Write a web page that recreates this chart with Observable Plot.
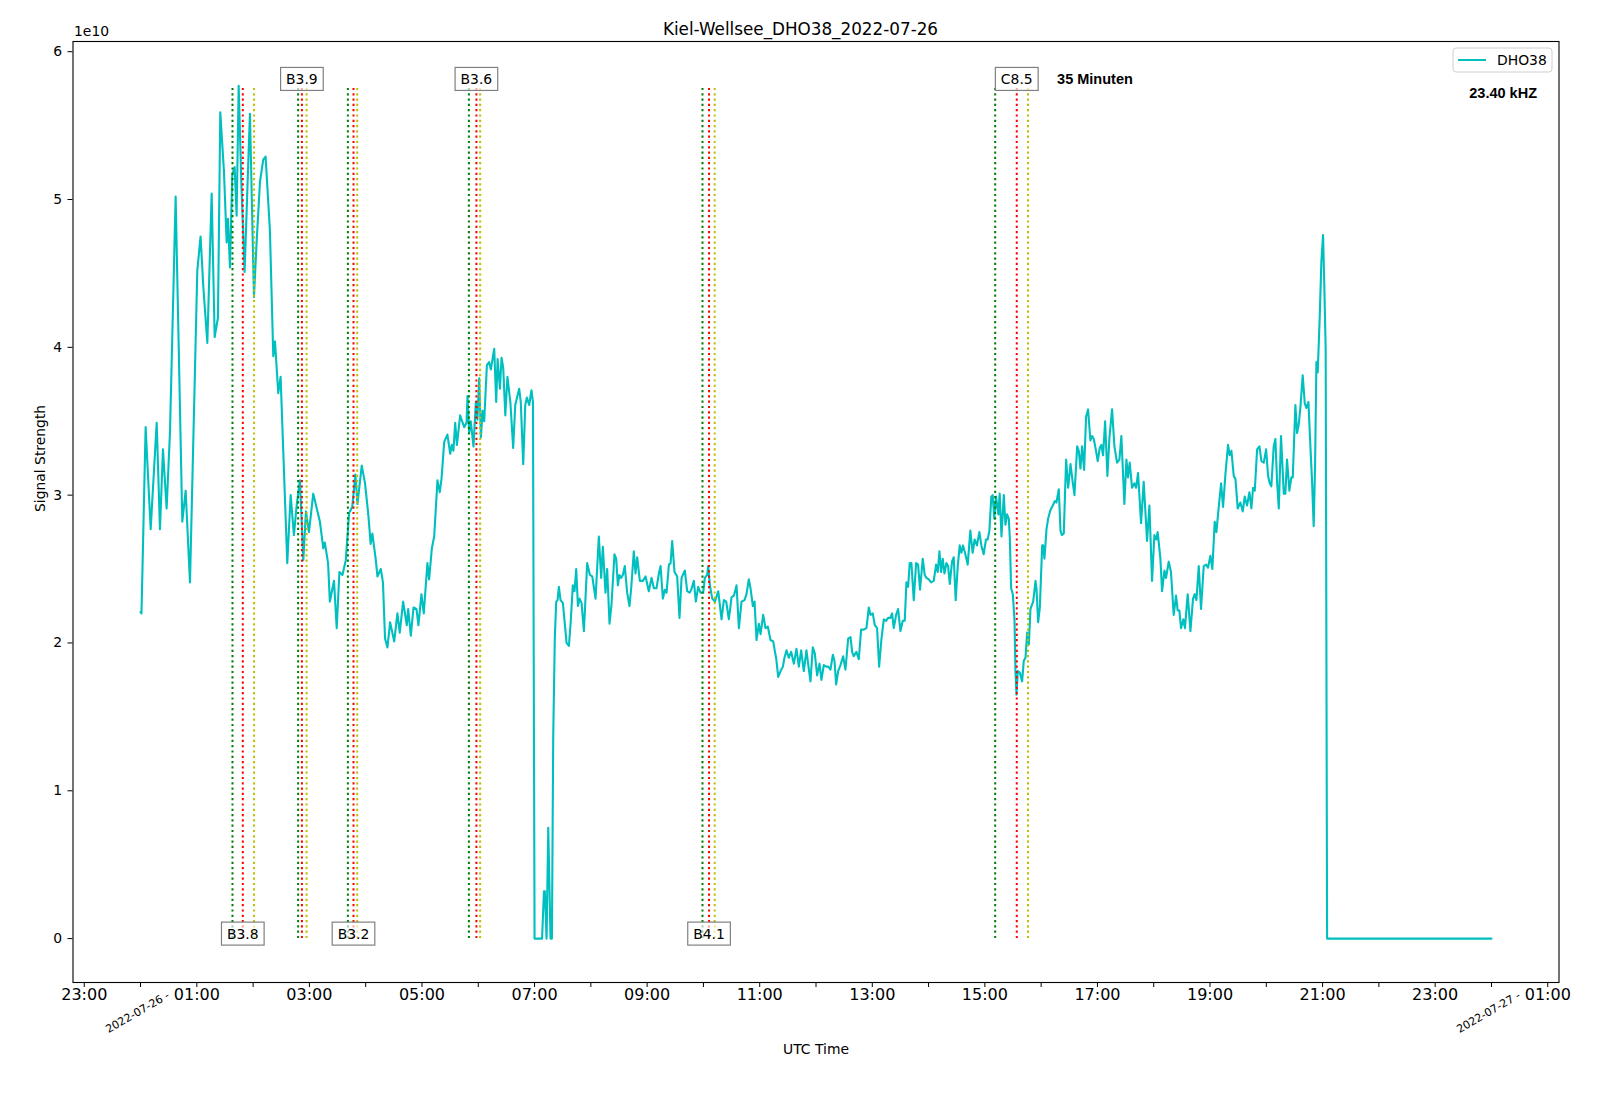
<!DOCTYPE html>
<html><head><meta charset="utf-8">
<script src="https://cdn.jsdelivr.net/npm/d3@7"></script>
<script src="https://cdn.jsdelivr.net/npm/@observablehq/plot@0.6"></script>
<style>
html,body{margin:0;padding:0;background:#fff}
#chart{width:1600px;height:1102px}
</style>
</head><body><div id="chart"></div>
<script>
// ---- data (signal strength in units of 1e10, time in minutes after 2022-07-26 00:00 UTC)
const minutes = [
0,1,5.4,10.8,17.2,20.7,23.9,27.8,31.4,37.4,
44.5,48.1,52.7,60.5,64,66.9,71.2,75.8,79,82.5,
85,88.9,91.8,93.2,95.3,97.8,100.3,102.4,104.6,107.4,
110.9,116.6,120.9,123.7,127.3,130.8,133.3,137.9,141.5,143.3,
146.8,149.3,156.4,160,163.5,166.4,169.9,173.5,176.3,179.5,
184.1,191.2,194.8,196.4,199.9,201.8,206.2,209.1,212,215.2,
218.8,222.3,225.7,229,231.2,235.8,239.3,242.9,245.3,247.1,
250.8,252.5,256.1,258.4,260.6,263.2,266,270.4,273.8,276.3,
279.9,283.8,285.3,288.1,291,294.1,296.2,299.4,301.9,305.8,
307.6,310.5,313,316.5,319,320.8,323.7,327.1,330.1,331.8,
333.5,335.4,337.2,340.7,343.3,345,347.5,348.5,350.3,352,
354.9,357.4,359.1,361,362.8,364.6,366.3,369.2,371.5,373.4,
375.2,377,379.1,380.6,383.1,384.8,386.6,388.8,391.1,394.2,
397.2,399.4,403.6,405.3,407.9,410.1,411.8,414.3,416.7,418.3,
420,428,430,431,432.8,434.6,437,438.5,439.9,441.6,
443.1,444.5,445.9,447.7,450.2,454.1,456.6,458.4,460.8,462.6,
464.4,466.2,468,470.1,472.6,476.1,479,481.5,485,488.5,
491,492.8,495.6,497.4,499.9,502,505.2,507,508.8,510.5,
512.3,514.1,516.2,518.7,521.2,523,525.8,527.6,529.4,532.2,
535.4,538.3,541.8,544.7,547.2,550,552.5,554.3,556.8,558.9,
560.7,563.2,565,566.7,569.2,572,574.5,576.7,580.2,582.7,
585.2,587,589.8,591.9,594.4,596.9,599.8,601.5,604,605.1,
606.9,609.4,612.2,615.8,619.3,621.8,624.3,627.1,630,632.5,
635.3,637.8,640.6,643.8,645.9,648.4,650.2,652.7,654.5,656.6,
659.1,660.9,663.7,666.2,668.7,671.5,674.4,676.5,677.5,679.7,
682.2,684.7,686.4,688.6,691,693.5,696.4,699.2,701.7,704.2,
707,709.8,711.6,714.1,716.6,718.7,721.2,723.7,725.8,728.3,
730.8,733,735.4,738,739.7,741.5,743.6,746.1,748.9,751.4,
754.3,756.8,758.5,760.3,763.1,765.6,768.1,770.9,773.8,776.3,
778.1,780.5,782.7,785.1,787.3,789.8,792.3,794.7,796.9,799.3,
801.1,802.9,805.4,807.5,810,812.5,814.6,816.4,818.2,819.9,
821.7,824.2,826.7,828.8,830.9,833.8,835.9,837.7,840.2,842.7,
845.5,848,849.8,851.6,853.3,855.1,856.9,859,860.8,862.6,
865,866.8,868.9,871.1,873.2,875,876.7,879.2,881.7,884.5,
887,889.1,891.6,894.1,896.3,898.7,901.2,903,904.8,906.9,
908.3,910.1,911.9,914.4,915.8,917.7,920.2,921.9,923.7,925.5,
926.6,928,929.8,931.6,932.6,933.7,935.1,937.3,939.7,941.5,
943.3,945.1,946.9,948.6,951.5,954,955,956.8,958.6,961.1,
962.1,963.5,965.7,967.4,969.9,972.4,974.5,976.3,978.8,980.6,
982,984.1,986.6,988.8,991.3,993.4,995.5,998.4,1000.1,1001.9,
1003.7,1005.8,1007.9,1010,1012.5,1014.3,1016.1,1018.2,1020.3,1022.5,
1024.2,1026,1028.2,1030.6,1032.8,1035.6,1038.1,1040.9,1043.4,1045.5,
1048.7,1050.9,1052.6,1054.4,1056.9,1059.4,1061.2,1063.3,1066.5,1069.3,
1072.9,1075.4,1078.2,1080.7,1082.8,1084.2,1087.1,1088.9,1091.4,1093.1,
1096,1098.4,1101.3,1103.8,1105.5,1107.3,1109.1,1111.6,1113.3,1116.2,
1119.1,1121.9,1123.7,1125.5,1128,1130.4,1133.3,1135.8,1137.9,1140.4,
1142.5,1145,1146.8,1149.3,1151.8,1153.9,1156.4,1159.2,1161,1162.8,
1165.3,1167.1,1169.5,1172.4,1174.9,1177,1179.5,1182,1184.1,1185.9,
1187.7,1190.2,1192.7,1194.8,1197.3,1199.8,1201.9,1203.7,1205.4,1207.9,
1209.7,1211.5,1213.3,1215.7,1218.6,1220.3,1222.1,1224.6,1226.7,1228.2,
1231,1232.8,1234.6,1236.3,1238.8,1241,1242.7,1244.9,1247,1248.8,
1250.5,1252,1253.4,1254.8,1256.9,1258.7,1260.5,1261.9,1263.3,1264.8,
1440];
const signal = [
2.21,2.20,3.46,2.77,3.49,2.77,3.31,2.91,3.43,5.02,
2.82,3.03,2.41,4.52,4.75,4.41,4.03,5.04,4.07,4.20,
5.59,5.19,4.71,4.87,4.54,5.17,5.22,4.89,5.77,5.12,
4.51,5.58,4.34,4.71,5.12,5.27,5.29,4.79,3.94,4.04,
3.69,3.80,2.54,3.00,2.73,2.93,3.10,2.56,2.89,2.75,
3.01,2.82,2.64,2.68,2.54,2.28,2.42,2.10,2.48,2.46,
2.56,2.88,2.92,3.14,2.94,3.20,3.08,2.86,2.67,2.74,
2.56,2.45,2.50,2.41,2.03,1.97,2.14,2.01,2.20,2.07,
2.28,2.12,2.23,2.05,2.24,2.23,2.12,2.33,2.20,2.54,
2.43,2.64,2.72,3.10,3.02,3.11,3.36,3.41,3.28,3.34,
3.30,3.49,3.34,3.54,3.49,3.46,3.49,3.67,3.42,3.50,
3.33,3.63,3.51,3.79,3.39,3.57,3.50,3.88,3.90,3.85,
3.92,3.99,3.63,3.92,3.72,3.93,3.86,3.54,3.80,3.63,
3.32,3.61,3.72,3.63,3.21,3.61,3.66,3.61,3.71,3.63,
0,0,0.32,0.32,0,0.75,0,0,1.37,2.04,
2.28,2.29,2.38,2.29,2.27,2.00,1.98,2.13,2.39,2.35,
2.50,2.25,2.30,2.27,2.08,2.54,2.46,2.45,2.30,2.72,
2.44,2.65,2.34,2.50,2.13,2.26,2.60,2.57,2.39,2.46,
2.44,2.46,2.52,2.34,2.25,2.37,2.62,2.47,2.58,2.42,
2.42,2.45,2.35,2.44,2.37,2.37,2.47,2.52,2.30,2.36,
2.34,2.53,2.54,2.69,2.48,2.45,2.17,2.44,2.49,2.35,
2.34,2.36,2.42,2.28,2.38,2.34,2.34,2.44,2.46,2.52,
2.39,2.30,2.28,2.35,2.16,2.29,2.28,2.16,2.31,2.32,
2.39,2.10,2.28,2.29,2.33,2.43,2.37,2.25,2.28,2.02,
2.13,2.06,2.19,2.10,2.11,2.02,2.01,1.93,1.90,1.77,
1.81,1.84,1.90,1.95,1.90,1.94,1.86,1.96,1.84,1.95,
1.81,1.95,1.86,1.74,1.97,1.93,1.78,1.86,1.75,1.85,
1.84,1.84,1.82,1.92,1.88,1.72,1.81,1.85,1.91,1.82,
2.03,2.04,1.94,1.91,1.94,1.89,2.09,2.09,2.10,2.24,
2.19,2.20,2.12,2.10,1.84,2.03,2.16,2.15,2.17,2.17,
2.20,2.10,2.19,2.23,2.08,2.15,2.15,2.41,2.38,2.54,
2.54,2.29,2.54,2.53,2.36,2.57,2.46,2.44,2.43,2.41,
2.42,2.53,2.48,2.62,2.48,2.57,2.47,2.54,2.52,2.40,
2.55,2.58,2.29,2.52,2.66,2.61,2.66,2.60,2.53,2.76,
2.61,2.70,2.66,2.75,2.66,2.60,2.70,2.70,2.76,2.99,
3.00,2.84,2.99,2.87,3.01,2.72,3.00,2.80,2.87,2.84,
2.71,2.37,2.33,2.15,1.81,1.65,1.81,1.80,1.74,1.88,
1.90,2.07,1.99,2.23,2.28,2.42,2.37,2.14,2.24,2.66,
2.66,2.57,2.77,2.84,2.90,2.93,2.96,2.95,3.04,2.76,
2.73,2.74,3.24,3.05,3.21,3.10,3.00,3.33,3.30,3.18,
3.33,3.17,3.53,3.58,3.37,3.40,3.38,3.31,3.23,3.32,
3.34,3.27,3.50,3.13,3.39,3.58,3.33,3.22,3.24,3.40,
2.94,3.24,3.12,3.22,3.05,3.08,3.05,3.15,2.81,3.09,
2.69,2.93,2.42,2.73,2.70,2.75,2.57,2.35,2.49,2.44,
2.55,2.48,2.19,2.32,2.22,2.22,2.10,2.16,2.10,2.33,
2.08,2.30,2.33,2.29,2.52,2.23,2.52,2.53,2.51,2.59,
2.50,2.82,2.75,2.92,3.08,2.92,3.14,3.34,3.27,3.30,
3.13,3.11,2.91,2.95,2.89,2.99,2.93,3.02,2.91,3.05,
3.03,3.31,3.33,3.23,3.22,3.31,3.13,3.08,3.06,3.33,
3.38,3.09,2.91,3.40,3.01,3.01,3.24,3.03,3.12,3.12,
3.61,3.42,3.48,3.59,3.81,3.62,3.59,3.63,3.33,3.09,
2.79,3.20,3.90,3.83,4.20,4.58,4.76,4.40,3.98,0,
0];

// flare events (UTC) and their GOES classes
const flareClass = ["B3.8","B3.9","B3.2","B3.6","B4.1","C8.5"];
const flareStart = ["01:38","02:48","03:41","05:50","09:59","15:11"];
const flarePeak  = ["01:49","02:52","03:47","05:58","10:06","15:34"];
const flareEnd   = ["02:01","02:57","03:51","06:02","10:12","15:46"];

const durationText = "35 Minuten";
const durationAt = "16:17";
const frequencyText = "23.40 kHZ";
const stationName = "DHO38";
const titleText = "Kiel-Wellsee_DHO38_2022-07-26";
const yTicks = [0,1,2,3,4,5,6];
const dateTickDays = ["2022-07-26","2022-07-27"];

// ---- build
const day0 = Date.UTC(2022, 6, 26);
const toDate = m => new Date(day0 + m * 60000);
const hm = s => { const [h, m] = s.split(":").map(Number); return h * 60 + m; };

const series = minutes.map((m, i) => ({t: toDate(m), v: signal[i]}));
const topY = 5.812, botY = 0.03;
const flares = flareClass.map((c, i) => ({
  cls: c,
  start: toDate(hm(flareStart[i])),
  peak: toDate(hm(flarePeak[i])),
  end: toDate(hm(flareEnd[i])),
  ly: i % 2 === 0 ? botY : topY
}));
const ymax = d3.max(signal);
const xDomain = [toDate(-72), toDate(1512)];
const hourTicks = d3.utcHours(toDate(-60), toDate(1501));
const fmt = d3.utcFormat("%H:%M");
const dateTicks = dateTickDays.map(s => new Date(s + "T00:00:00Z"));

const dot = {strokeWidth: 2, strokeDasharray: "2.2,3.1", y1: 0, y2: ymax};
const chart = Plot.plot({
  width: 1600, height: 1102,
  marginLeft: 72.5, marginRight: 41.5, marginTop: 41, marginBottom: 120,
  style: {fontFamily: "DejaVu Sans", background: "#fff", color: "#000", overflow: "visible"},
  x: {type: "utc", domain: xDomain},
  y: {domain: [-0.297, 6.069]},
  marks: [
    Plot.line(series, {x: "t", y: "v", stroke: "#00bfbf", strokeWidth: 2.1, strokeLinejoin: "round"}),
    Plot.ruleX(flares, {x: "start", stroke: "#008000", ...dot}),
    Plot.ruleX(flares, {x: "peak", stroke: "#ff0000", ...dot}),
    Plot.ruleX(flares, {x: "end", stroke: "#bfbf00", ...dot}),
    Plot.text(flares, {x: "peak", y: "ly", text: "cls", fontSize: 13.9, fill: "#000", lineAnchor: "middle", ariaLabel: "flare-labels"}),
    Plot.text([durationText], {x: () => toDate(hm(durationAt)), y: () => topY, text: d => d, textAnchor: "start", lineAnchor: "middle",
      fontWeight: "bold", fontFamily: "Liberation Sans", fontSize: 14.5, fill: "#000"}),
    Plot.text([frequencyText], {frameAnchor: "top-right", text: d => d, textAnchor: "end", lineAnchor: "middle", dx: -22, dy: 52,
      fontWeight: "bold", fontFamily: "Liberation Sans", fontSize: 14.5, fill: "#000"}),
    Plot.frame({stroke: "#000", strokeWidth: 1.1}),
    Plot.axisX({ticks: hourTicks, tickFormat: d => d.getUTCHours() % 2 ? fmt(d) : "", tickSize: 5, tickPadding: 1.5,
      fontSize: 16, label: null, stroke: "#000"}),
    Plot.axisY({ticks: yTicks, tickFormat: d => String(d), tickSize: 5, tickPadding: 6, fontSize: 13.9, label: null, stroke: "#000"}),
    Plot.text(dateTicks, {x: d => d, text: d => d3.utcFormat("%Y-%m-%d")(d) + " -", frameAnchor: "bottom", rotate: -30,
      textAnchor: "end", lineAnchor: "middle", dx: 28, dy: 12, fontSize: 11, fill: "#000"}),
    Plot.text(["1e10"], {frameAnchor: "top-left", text: d => d, textAnchor: "start", lineAnchor: "middle", dx: 1, dy: -10, fontSize: 13.9, fill: "#000"}),
    Plot.text(["Signal Strength"], {frameAnchor: "left", text: d => d, rotate: -90, lineAnchor: "middle", dx: -32, fontSize: 13.9, fill: "#000"}),
    Plot.text(["UTC Time"], {frameAnchor: "bottom", text: d => d, lineAnchor: "middle", dy: 67, fontSize: 13.9, fill: "#000"}),
    Plot.text([titleText], {frameAnchor: "top", text: d => d, lineAnchor: "middle", dx: -15.5, dy: -12, fontSize: 16.8, fill: "#000"})
  ]
});
document.getElementById("chart").appendChild(chart);

// boxes behind flare labels
const ns = "http://www.w3.org/2000/svg";
const labelSet = new Set(flareClass);
chart.querySelectorAll("text").forEach(t => {
  if (!labelSet.has(t.textContent)) return;
  const b = t.getBBox();
  const r = document.createElementNS(ns, "rect");
  r.setAttribute("x", b.x - 5.5);
  r.setAttribute("y", b.y - 3.5);
  r.setAttribute("width", b.width + 11);
  r.setAttribute("height", b.height + 7);
  r.setAttribute("fill", "#fff");
  r.setAttribute("fill-opacity", "0.65");
  r.setAttribute("stroke", "#808080");
  r.setAttribute("stroke-width", "1.2");
  if (t.getAttribute("transform")) r.setAttribute("transform", t.getAttribute("transform"));
  t.parentNode.insertBefore(r, t);
});

// legend (upper right)
const svg = d3.select(chart);
const lg = svg.append("g").attr("font-family", "DejaVu Sans").attr("text-anchor", "start");
lg.append("rect").attr("x", 1453).attr("y", 48).attr("width", 99).attr("height", 24).attr("rx", 3)
  .attr("fill", "#fff").attr("fill-opacity", 0.8).attr("stroke", "#d0d0d0");
lg.append("line").attr("x1", 1458).attr("x2", 1486).attr("y1", 60).attr("y2", 60)
  .attr("stroke", "#00bfbf").attr("stroke-width", 2);
lg.append("text").attr("x", 1497).attr("y", 60).attr("dy", "0.35em").attr("font-size", 13.9)
  .attr("text-anchor", "start").attr("fill", "#000").text(stationName);
</script>
</body></html>
